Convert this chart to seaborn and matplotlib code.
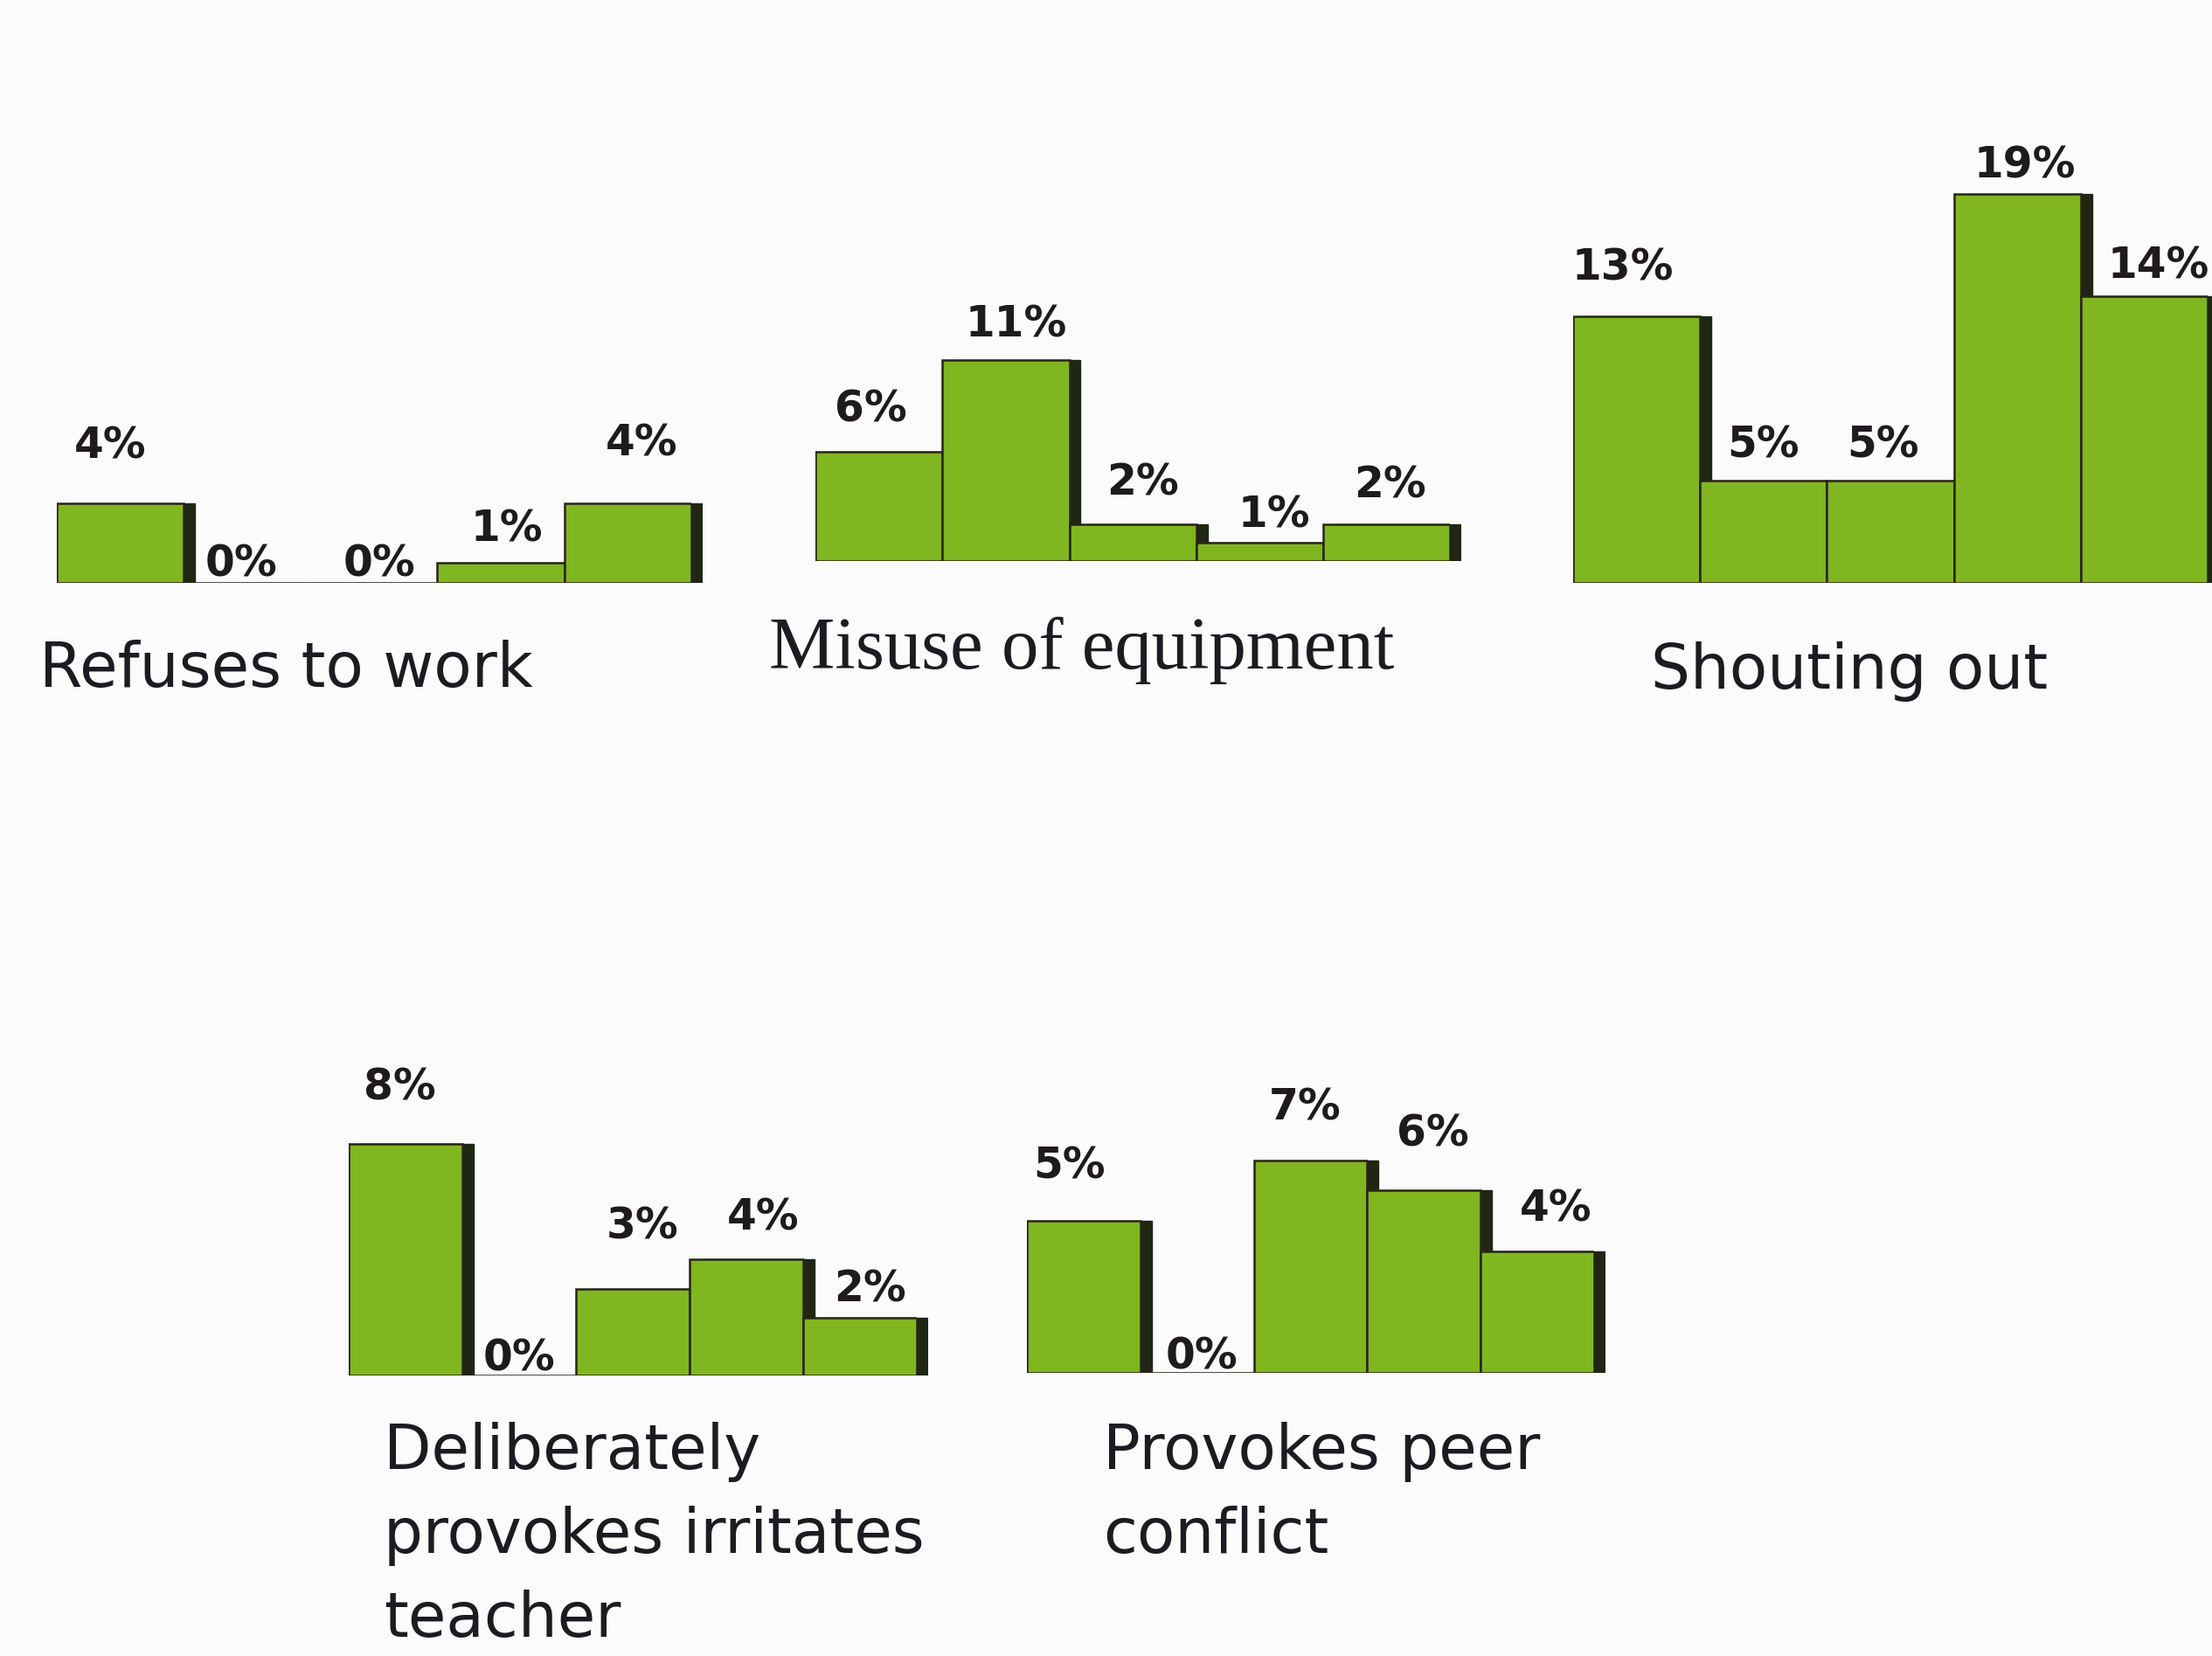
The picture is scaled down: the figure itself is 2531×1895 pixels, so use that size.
import matplotlib
matplotlib.use("Agg")
import matplotlib.pyplot as plt
import seaborn as sns
import pandas as pd

sns.set_theme(style="white")
plt.rcParams['font.family'] = ['DejaVu Sans']

# ---------------- data ----------------
categories = ["1", "2", "3", "4", "5"]
refuses_to_work = [4, 0, 0, 1, 4]
misuse_of_equipment = [6, 11, 2, 1, 2]
shouting_out = [13, 5, 5, 19, 14]
deliberately_provokes = [8, 0, 3, 4, 2]
provokes_peer_conflict = [5, 0, 7, 6, 4]

titles = ["Refuses to work", "Misuse of equipment", "Shouting out",
          "Deliberately\nprovokes irritates\nteacher", "Provokes peer\nconflict"]

# ---------------- layout (reference display coords 1568x1174) ----------------
W_REF, H_REF = 1568.0, 1174.0
GREEN = "#80b620"
EDGE = "#2a2418"
SHADOW = "#1f2614"
BG = "#fbfbfb"

# dy: label-centre offset above bar top (full-size px); dx: horizontal shift (display px)
panels = [
    dict(values=refuses_to_work, left=40, right=490, base=413, scale=14.0,
         title=titles[0], tx=28, ty=487, tfont="DejaVu Sans", tsize=51,
         dy=[66, 21, 21, 39, 69], dx=[-7, -4, 4, 4, 10]),
    dict(values=misuse_of_equipment, left=578, right=1028, base=398, scale=13.0,
         title=titles[1], tx=545, ty=474, tfont="Liberation Serif", tsize=61,
         dy=[48, 40, 48, 32, 45], dx=[-6, 7, 7, 10, 2]),
    dict(values=shouting_out, left=1115, right=1565, base=413, scale=14.5,
         title=titles[2], tx=1170, ty=488, tfont="DejaVu Sans", tsize=51,
         dy=[56, 40, 40, 32, 34], dx=[-10, 0, -5, 5, 10]),
    dict(values=deliberately_provokes, left=247, right=650, base=975, scale=20.5,
         title=titles[3], tx=272, ty=1008, tfont="DejaVu Sans", tsize=51,
         dy=[65, 19, 71, 48, 32], dx=[-4, 0, 7, 12, 7]),
    dict(values=provokes_peer_conflict, left=728, right=1130, base=973, scale=21.5,
         title=titles[4], tx=782, ty=1008, tfont="DejaVu Sans", tsize=51,
         dy=[63, 18, 60, 65, 48], dx=[-10, 3, -4, 6, 13]),
]

DPI = 100
fig = plt.figure(figsize=(25.31, 18.95), dpi=DPI, facecolor=BG)
PX = 2531 / W_REF  # full px per reference display px
PT = 72.0 / DPI    # points per full px
SHADOW_DX = 8  # display px

for p in panels:
    vals = p["values"]
    ymax = max(vals) * 1.0 + 1.0
    h_disp = ymax * p["scale"]
    left = p["left"] / W_REF
    width = (p["right"] - p["left"]) / W_REF
    bottom = 1 - p["base"] / H_REF
    height = h_disp / H_REF
    df = pd.DataFrame({"category": categories, "value": vals})

    # shadow (3D effect) drawn first, offset to the right
    ax_s = fig.add_axes([left + SHADOW_DX / W_REF, bottom, width, height])
    sns.barplot(data=df, x="category", y="value", order=categories, ax=ax_s,
                color=SHADOW, saturation=1, width=1.0, edgecolor=SHADOW,
                linewidth=1.0, errorbar=None)
    ax_s.set_xlim(-0.5, 4.5)
    ax_s.set_ylim(0, ymax)
    ax_s.axis("off")
    ax_s.patch.set_alpha(0)

    ax = fig.add_axes([left, bottom, width, height])
    sns.barplot(data=df, x="category", y="value", order=categories, ax=ax,
                color=GREEN, saturation=1, width=1.0, edgecolor=EDGE,
                linewidth=1.8, errorbar=None)
    ax.set_xlim(-0.5, 4.5)
    ax.set_ylim(0, ymax)
    ax.axis("off")
    ax.patch.set_alpha(0)

    for i, v in enumerate(vals):
        ax.annotate(f"{v}%", xy=(i, v), xycoords="data",
                    xytext=(p["dx"][i] * PX * PT, p["dy"][i] * PT),
                    textcoords="offset points", ha="center", va="center",
                    fontsize=35, fontweight="bold", color="#1e1a1e",
                    annotation_clip=False)

    fig.text(p["tx"] / W_REF, 1 - p["ty"] / H_REF, p["title"],
             ha="left", va="top" if "\n" in p["title"] else "baseline",
             fontsize=p["tsize"], family=[p["tfont"], "DejaVu Sans"],
             color="#1e1a22", linespacing=1.5)

fig.savefig("out.png", dpi=DPI, facecolor=BG)
